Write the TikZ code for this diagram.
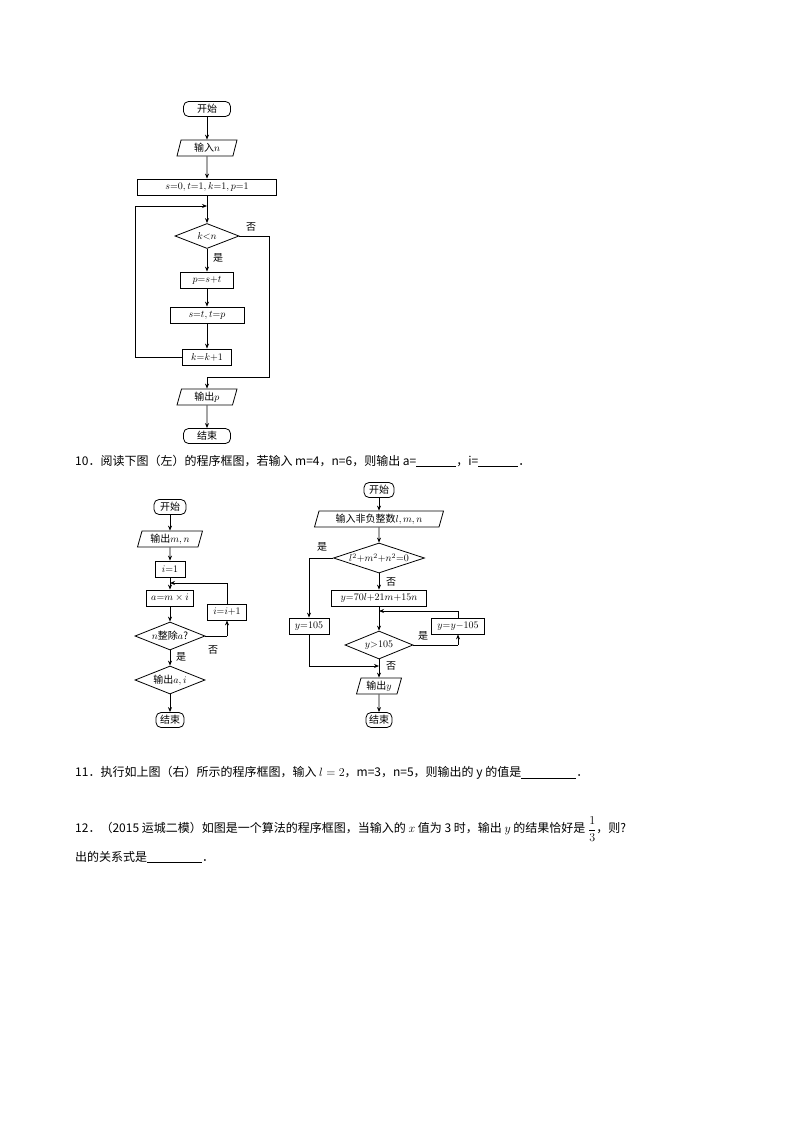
\documentclass[tikz,border=0pt]{standalone}
\usepackage{fontspec}
\newfontfamily\cjk{Noto Sans CJK SC}
\usetikzlibrary{shapes.geometric,arrows.meta}
\tikzset{
  base/.style={draw,line width=0.8pt,inner sep=1pt,font=\cjk\fontsize{10}{11}\selectfont},
  term/.style={base,rounded corners=5pt,minimum height=15pt},
  proc/.style={base,minimum height=16pt},
  io/.style={base,trapezium,trapezium left angle=70,trapezium right angle=110,minimum height=16pt,trapezium stretches body},
  dec/.style={draw,line width=0.8pt,diamond,inner sep=0pt},
  arr/.style={line width=0.8pt,-{Stealth[length=5pt,width=4pt]}},
  ln/.style={line width=0.8pt},
  lab/.style={font=\cjk\fontsize{10}{11}\selectfont,inner sep=1pt},
  q/.style={font=\cjk\fontsize{12}{14}\selectfont,anchor=west,inner sep=0pt}
}
\begin{document}
\begin{tikzpicture}[x=1pt,y=-1pt]
\useasboundingbox (0,0) rectangle (794,1123);
% ---- top flowchart
\node[term,minimum width=47pt] (a1) at (207,109) {开始};
\node[io,minimum width=60pt] (a2) at (207,148) {输入$n$};
\node[proc,minimum width=139pt] (a3) at (207,187) {$s{=}0,t{=}1,k{=}1,p{=}1$};
\coordinate (aj) at (207,206);
\node[dec,minimum width=64pt,minimum height=25pt] (a4) at (207,236) {};
\node[lab] (a4t) at (a4) {$k{<}n$};
\node[proc,minimum width=53pt] (a5) at (207,280) {$p{=}s{+}t$};
\node[proc,minimum width=74pt] (a6) at (207,315) {$s{=}t,t{=}p$};
\node[proc,minimum width=49pt] (a7) at (207,357) {$k{=}k{+}1$};
\node[io,minimum width=60pt] (a8) at (207,397) {输出$p$};
\node[term,minimum width=47pt] (a9) at (207,436) {结束};
\coordinate (aL1) at (135,357); \coordinate (aL2) at (135,206);
\coordinate (aR1) at (269,236); \coordinate (aR2) at (269,377); \coordinate (aR3) at (207,377);
\draw[arr] (a1)--(a2); \draw[arr] (a2)--(a3); \draw[ln] (a3)--(aj); \draw[arr] (aj)--(a4);
\draw[arr] (a4)--(a5); \draw[arr] (a5)--(a6); \draw[arr] (a6)--(a7);
\draw[ln] (a7.west)--(aL1)--(aL2); \draw[arr] (aL2)--(aj);
\draw[ln] (a4.east)--(aR1)--(aR2)--(aR3); \draw[arr] (aR3)--(a8);
\draw[arr] (a8)--(a9);
\node[lab] at (251,227) {否};
\node[lab] at (218,258) {是};
% ---- question 10
\node[q] (q10) at (75,461) {10．阅读下图（左）的程序框图，若输入 m=4，n=6，则输出 a=\underline{\hspace{40pt}}，i=\underline{\hspace{40pt}}．};
% ---- left flowchart
\node[term,minimum width=32pt] (b1) at (170,507) {开始};
\node[io,minimum width=65pt] (b2) at (170,539) {输出$m,n$};
\node[proc,minimum width=30pt] (b3) at (170,569) {$i{=}1$};
\coordinate (bj) at (170,583);
\node[proc,minimum width=47pt] (b4) at (170,598) {$a{=}m\times i$};
\node[proc,minimum width=39pt] (b5) at (227,612) {$i{=}i{+}1$};
\node[dec,minimum width=70pt,minimum height=28pt] (b6) at (170,636) {};
\node[lab] (b6t) at (b6) {$n$整除$a$?};
\node[dec,minimum width=70pt,minimum height=28pt] (b7) at (170,680) {};
\node[lab] (b7t) at (b7) {输出$a,i$};
\node[term,minimum width=28pt] (b8) at (170,720) {结束};
\coordinate (bR1) at (227,636); \coordinate (bR2) at (227,583);
\draw[arr] (b1)--(b2); \draw[arr] (b2)--(b3); \draw[ln] (b3)--(bj); \draw[arr] (bj)--(b4);
\draw[arr] (b4)--(b6); \draw[arr] (b6)--(b7); \draw[arr] (b7)--(b8);
\draw[ln] (b6.east)--(bR1); \draw[arr] (bR1)--(b5);
\draw[ln] (b5)--(bR2); \draw[arr] (bR2)--(bj);
\node[lab] at (213,650) {否};
\node[lab] at (181,657) {是};
% ---- right flowchart
\node[term,minimum width=30pt] (c1) at (379,490) {开始};
\node[io,minimum width=129pt] (c2) at (379,519) {输入非负整数$l,m,n$};
\node[dec,minimum width=91pt,minimum height=30pt] (c3) at (379,558) {};
\node[lab] (c3t) at (c3) {$l^2{+}m^2{+}n^2{=}0$};
\node[proc,minimum width=95pt] (c4) at (379,598) {$y{=}70l{+}21m{+}15n$};
\coordinate (cj) at (379,611);
\node[proc,minimum width=40pt] (c5) at (309,626) {$y{=}105$};
\node[proc,minimum width=53pt] (c6) at (458,626) {$y{=}y{-}105$};
\node[dec,minimum width=68pt,minimum height=28pt] (c7) at (379,645) {};
\node[lab] (c7t) at (c7) {$y{>}105$};
\coordinate (cm) at (379,666);
\node[io,minimum width=45pt] (c8) at (379,686) {输出$y$};
\node[term,minimum width=26pt] (c9) at (379,720) {结束};
\coordinate (cL1) at (309,558); \coordinate (cL2) at (309,666);
\coordinate (cR1) at (458,645); \coordinate (cR2) at (458,611);
\draw[arr] (c1)--(c2); \draw[arr] (c2)--(c3); \draw[arr] (c3)--(c4);
\draw[ln] (c4)--(cj); \draw[arr] (cj)--(c7);
\draw[ln] (c3.west)--(cL1); \draw[arr] (cL1)--(c5);
\draw[ln] (c5)--(cL2); \draw[arr] (cL2)--(cm);
\draw[ln] (c7)--(cm); \draw[arr] (cm)--(c8); \draw[arr] (c8)--(c9);
\draw[ln] (c7.east)--(cR1); \draw[arr] (cR1)--(c6);
\draw[ln] (c6)--(cR2); \draw[arr] (cR2)--(cj);
\node[lab] at (322,547) {是};
\node[lab] at (391,582) {否};
\node[lab] at (423,636) {是};
\node[lab] at (391,666) {否};
% ---- questions 11, 12
\node[q] (q11) at (75,773) {11．执行如上图（右）所示的程序框图，输入 $l=2$，m=3，n=5，则输出的 y 的值是\underline{\hspace{55pt}}．};
\node[q] (q12) at (75,829) {12．（2015 运城二模）如图是一个算法的程序框图，当输入的 $x$ 值为 3 时，输出 $y$ 的结果恰好是 $\displaystyle\frac{1}{3}$，则?};
\node[q] (q12b) at (75,857) {出的关系式是\underline{\hspace{55pt}}．};
\end{tikzpicture}
\end{document}
